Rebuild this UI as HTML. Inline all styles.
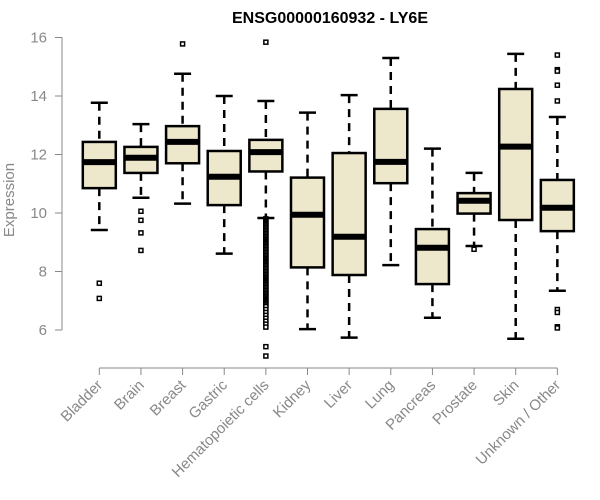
<!DOCTYPE html>
<html><head><meta charset="utf-8"><style>
body{margin:0;background:#fff;}
svg{display:block;font-family:"Liberation Sans",Arial,sans-serif;}
</style></head><body>
<svg id="chart" width="600" height="500">
<text x="330" y="23" text-anchor="middle" font-weight="bold" font-size="16" fill="#000">ENSG00000160932 - LY6E</text>
<text transform="translate(14,200) rotate(-90)" text-anchor="middle" font-size="15" fill="#888">Expression</text>
<g id="yaxis"></g>
<g id="xaxis"></g>
<g id="boxes"></g>
</svg>
<script>
const categories=["Bladder","Brain","Breast","Gastric","Hematopoietic cells","Kidney","Liver","Lung","Pancreas","Prostate","Skin","Unknown / Other"];
const whiskerLow=[9.42,10.52,10.32,8.61,9.83,6.03,5.74,8.22,6.42,8.87,5.7,7.34];
const q1=[10.85,11.37,11.7,10.27,11.42,8.14,7.88,11.02,7.57,9.98,9.76,9.38];
const median=[11.74,11.89,12.43,11.24,12.08,9.94,9.19,11.75,8.81,10.42,12.27,10.18];
const q3=[12.43,12.26,12.97,12.12,12.5,11.21,12.05,13.56,9.45,10.68,14.24,11.13];
const whiskerHigh=[13.77,13.04,14.76,14.0,13.83,13.43,14.03,15.3,12.2,11.37,15.44,13.28];
const outliers=[[7.6,7.08],[10.06,9.75,9.32,8.72],[15.78],[],
[15.84,9.8,9.75,9.7,9.65,9.6,9.55,9.5,9.45,9.4,9.35,9.3,9.25,9.2,9.15,9.1,9.05,9.0,8.95,8.9,8.85,8.8,8.75,8.7,8.65,8.6,8.55,8.5,8.45,8.4,8.35,8.3,8.25,8.2,8.15,8.1,8.05,8.0,7.95,7.9,7.85,7.8,7.75,7.7,7.65,7.6,7.55,7.5,7.45,7.4,7.35,7.3,7.25,7.2,7.15,7.1,7.05,7.0,6.95,6.9,6.85,6.8,6.7,6.6,6.5,6.4,6.3,6.2,6.1,5.43,5.11],
[],[],[],[],[8.76],[],[15.4,14.9,14.85,14.37,13.83,6.7,6.6,6.11,6.07]];
const yTicks=[6,8,10,12,14,16];
const NS="http://www.w3.org/2000/svg";
function y(v){return 330-(v-6)*29.25;}
function x(i){return 99.3+i*41.64;}
function mk(tag,attrs,parent){const e=document.createElementNS(NS,tag);for(const k in attrs)e.setAttribute(k,attrs[k]);parent.appendChild(e);return e;}
const ya=document.getElementById('yaxis'),xa=document.getElementById('xaxis'),bx=document.getElementById('boxes');
let l=mk('line',{x1:62,x2:62,y1:y(6),y2:y(16),stroke:'#888'},ya);


yTicks.forEach(t=>{
 const tk=mk('line',{x1:55,x2:62,y1:y(t),y2:y(t),stroke:'#888'},ya);
 
 
 const tx=mk('text',{x:47,y:y(t)+5,'text-anchor':'end','font-size':15,fill:'#888'},ya);
 tx.textContent=t;
 
 
});
l=mk('line',{x1:x(0),x2:x(11),y1:368,y2:368,stroke:'#888'},xa);


categories.forEach((c,i)=>{
 const cx=x(i),h=16.5;
 const tk=mk('line',{x1:cx,x2:cx,y1:368,y2:375,stroke:'#888'},xa);
 
 
 const tx=mk('text',{x:cx+4,y:386,'text-anchor':'end','font-size':15,fill:'#888',transform:`rotate(-45 ${cx+4} 386)`},xa);
 tx.textContent=c;
 
 
 const g=mk('g',{},bx);
 
 
 mk('line',{x1:cx,x2:cx,y1:y(whiskerHigh[i]),y2:y(q3[i]),stroke:'#000','stroke-width':2.5,'stroke-dasharray':'8,6'},g);
 mk('line',{x1:cx,x2:cx,y1:y(q1[i]),y2:y(whiskerLow[i]),stroke:'#000','stroke-width':2.5,'stroke-dasharray':'8,6'},g);
 mk('line',{x1:cx-8.5,x2:cx+8.5,y1:y(whiskerHigh[i]),y2:y(whiskerHigh[i]),stroke:'#000','stroke-width':2.5},g);
 mk('line',{x1:cx-8.5,x2:cx+8.5,y1:y(whiskerLow[i]),y2:y(whiskerLow[i]),stroke:'#000','stroke-width':2.5},g);
 mk('rect',{x:cx-h,y:y(q3[i]),width:2*h,height:y(q1[i])-y(q3[i]),fill:'#ede7cc',stroke:'#000','stroke-width':2.5},g);
 mk('line',{x1:cx-h,x2:cx+h,y1:y(median[i]),y2:y(median[i]),stroke:'#000','stroke-width':6},g);
 outliers[i].forEach(v=>{
  const o=mk('rect',{x:cx-2,y:y(v)-2,width:4,height:4,fill:'#fff',stroke:'#000','stroke-width':1.5},g);
  
  
 });
});
</script>
</body></html>
